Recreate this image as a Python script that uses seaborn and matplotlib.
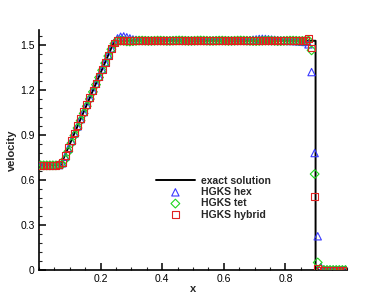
import numpy as np
import pandas as pd
import seaborn as sns
import matplotlib.pyplot as plt
from matplotlib.ticker import MultipleLocator

# exact solution (piecewise linear)
x_exact = [0.0, 0.07, 0.245, 0.898, 0.898, 1.0]
u_exact = [0.698, 0.698, 1.529, 1.529, 0.0, 0.0]

# cell centres
x_cells = np.arange(100) * 0.01 + 0.005

u_hex = [0.698, 0.698, 0.698, 0.698, 0.698, 0.699, 0.700, 0.712, 0.755, 0.808,
         0.860, 0.910, 0.958, 1.006, 1.053, 1.101, 1.148, 1.196, 1.243, 1.290,
         1.337, 1.385, 1.432, 1.478, 1.518, 1.545, 1.556, 1.558, 1.552, 1.545,
         1.538, 1.535, 1.532, 1.531, 1.530, 1.530, 1.530, 1.529, 1.529, 1.529,
         1.529, 1.529, 1.530, 1.530, 1.529, 1.529, 1.529, 1.529, 1.530, 1.530,
         1.530, 1.530, 1.529, 1.529, 1.529, 1.529, 1.529, 1.530, 1.530, 1.530,
         1.530, 1.530, 1.529, 1.529, 1.529, 1.529, 1.530, 1.531, 1.533, 1.536,
         1.538, 1.541, 1.542, 1.541, 1.539, 1.537, 1.535, 1.533, 1.531, 1.530,
         1.529, 1.528, 1.528, 1.527, 1.526, 1.524, 1.521, 1.505, 1.320, 0.780,
         0.225, 0.020, 0.002, 0.000, 0.000, 0.000, 0.000, 0.000, 0.000, 0.000]

u_tet = [0.698, 0.698, 0.698, 0.698, 0.698, 0.698, 0.699, 0.704, 0.738, 0.790,
         0.845, 0.897, 0.947, 0.996, 1.044, 1.092, 1.140, 1.188, 1.236, 1.284,
         1.332, 1.380, 1.427, 1.472, 1.510, 1.527, 1.530, 1.528, 1.525, 1.524,
         1.526, 1.528, 1.530, 1.530, 1.529, 1.528, 1.528, 1.529, 1.530, 1.530,
         1.529, 1.528, 1.528, 1.529, 1.530, 1.531, 1.530, 1.529, 1.528, 1.528,
         1.529, 1.530, 1.531, 1.530, 1.529, 1.528, 1.528, 1.529, 1.530, 1.530,
         1.529, 1.528, 1.528, 1.529, 1.530, 1.531, 1.530, 1.529, 1.528, 1.527,
         1.527, 1.528, 1.529, 1.530, 1.530, 1.529, 1.528, 1.527, 1.527, 1.528,
         1.529, 1.530, 1.530, 1.529, 1.528, 1.528, 1.529, 1.531, 1.465, 0.640,
         0.050, 0.005, 0.000, 0.000, 0.000, 0.000, 0.000, 0.000, 0.000, 0.000]

u_hybrid = [0.698, 0.698, 0.698, 0.698, 0.698, 0.699, 0.701, 0.716, 0.762, 0.815,
            0.865, 0.914, 0.962, 1.009, 1.056, 1.103, 1.150, 1.197, 1.244, 1.291,
            1.338, 1.386, 1.433, 1.478, 1.514, 1.529, 1.532, 1.533, 1.532, 1.531,
            1.530, 1.530, 1.529, 1.529, 1.529, 1.530, 1.530, 1.530, 1.529, 1.529,
            1.529, 1.529, 1.530, 1.530, 1.530, 1.529, 1.529, 1.529, 1.530, 1.530,
            1.530, 1.530, 1.529, 1.529, 1.529, 1.530, 1.530, 1.530, 1.529, 1.529,
            1.529, 1.529, 1.530, 1.530, 1.530, 1.529, 1.529, 1.529, 1.530, 1.530,
            1.530, 1.530, 1.529, 1.529, 1.529, 1.530, 1.530, 1.530, 1.529, 1.529,
            1.529, 1.529, 1.530, 1.530, 1.530, 1.531, 1.533, 1.545, 1.480, 0.490,
            0.010, 0.000, 0.000, 0.000, 0.000, 0.000, 0.000, 0.000, 0.000, 0.000]

sns.set_style('ticks')
plt.rcParams['font.family'] = ['Liberation Sans', 'DejaVu Sans']

fig = plt.figure(figsize=(3.87, 3.01), dpi=100)
ax = fig.add_axes([0.1008, 0.103, 0.7958, 0.797])

sns.lineplot(x=x_exact, y=u_exact, ax=ax, color='black', linewidth=1.4,
             sort=False, label='exact solution', estimator=None)

series = [('HGKS hex', u_hex, '^', '#3a3aff', 28),
          ('HGKS tet', u_tet, 'D', '#1ed41e', 20),
          ('HGKS hybrid', u_hybrid, 's', '#e02020', 24)]
for name, vals, mk, col, sz in series:
    sns.scatterplot(x=x_cells, y=vals, ax=ax, marker=mk, s=sz,
                    facecolor='none', edgecolor=col, linewidth=0.8,
                    label=name, zorder=3)

ax.set_xlim(0, 1.0)
ax.set_ylim(0, 1.6)
ax.xaxis.set_minor_locator(MultipleLocator(0.05))
ax.yaxis.set_minor_locator(MultipleLocator(0.06))
ax.set_xticks([0.2, 0.4, 0.6, 0.8])
ax.set_yticks([0, 0.3, 0.6, 0.9, 1.2, 1.5])
ax.set_yticklabels(['0', '0.3', '0.6', '0.9', '1.2', '1.5'])
ax.tick_params(which='major', direction='in', length=5, width=1.1,
               labelsize=7.5, colors='black', pad=3)
ax.tick_params(which='minor', direction='in', length=2.5, width=0.8)
for sp in ['top', 'right']:
    ax.spines[sp].set_visible(False)
for sp in ['left', 'bottom']:
    ax.spines[sp].set_linewidth(1.2)
    ax.spines[sp].set_color('black')

ax.set_xlabel('x', fontsize=8, fontweight='bold', labelpad=0)
ax.set_ylabel('velocity', fontsize=8, fontweight='bold', labelpad=2)

leg = ax.legend(loc='upper left', bbox_to_anchor=(0.365, 0.41), frameon=False,
                prop={'size': 7.5, 'weight': 'bold'}, handlelength=3.8,
                labelspacing=0.12, handletextpad=0.55, borderaxespad=0)

fig.savefig('out.png', dpi=100)
